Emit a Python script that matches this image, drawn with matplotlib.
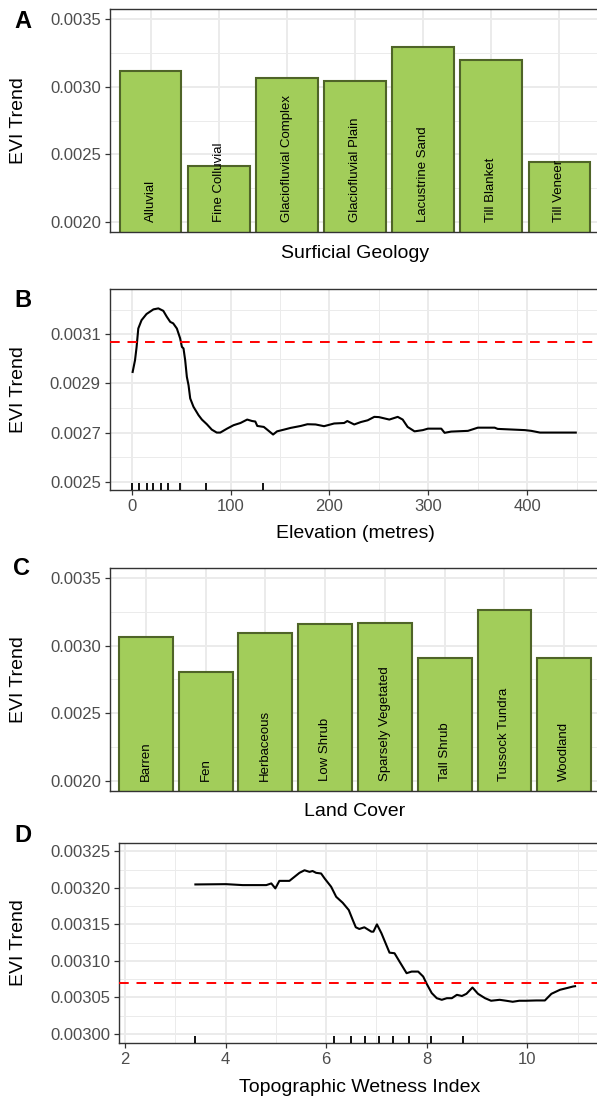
import matplotlib
matplotlib.use('Agg')
import matplotlib.pyplot as plt
from matplotlib.ticker import MultipleLocator, FormatStrFormatter, FixedLocator

plt.rcParams['font.family'] = ['Liberation Sans', 'DejaVu Sans']

# ---------------- data ----------------
geology_cats = ["Alluvial", "Fine Colluvial", "Glaciofluvial Complex", "Glaciofluvial Plain",
                "Lacustrine Sand", "Till Blanket", "Till Veneer"]
geology_vals = [0.003116, 0.002414, 0.003068, 0.003044, 0.003295, 0.003197, 0.002441]

landcover_cats = ["Barren", "Fen", "Herbaceous", "Low Shrub", "Sparsely Vegetated",
                  "Tall Shrub", "Tussock Tundra", "Woodland"]
landcover_vals = [0.003062, 0.002806, 0.003096, 0.003163, 0.003168, 0.002910, 0.003266, 0.002912]

elev_x = [1, 3.4, 5, 6.7, 10, 15, 22, 27, 32, 35.5, 39, 42, 45.7, 49, 50.8, 52.4, 54.1, 55.8,
          57.5, 59.2, 62.5, 67.6, 71, 76, 81, 86, 89.6, 96.4, 103, 110, 116.8, 121.8, 125, 127,
          133.6, 137, 143, 147, 154, 160.7, 171, 177.7, 186, 194.5, 204.7, 214.8, 218, 225,
          231.8, 238.6, 245.3, 250, 260.5, 269, 274, 279, 286, 294.4, 299.5, 313, 316.4, 323,
          340, 350, 367, 370, 397.6, 404, 412.8, 449]
elev_y = [0.002947, 0.002995, 0.003049, 0.003124, 0.003158, 0.003183, 0.003202, 0.003206,
          0.003196, 0.003172, 0.003151, 0.003145, 0.003124, 0.003084, 0.003049, 0.003043,
          0.002995, 0.002927, 0.002893, 0.002839, 0.002805, 0.002771, 0.002753, 0.002734,
          0.002712, 0.002700, 0.002700, 0.002716, 0.002730, 0.002739, 0.002753, 0.002747,
          0.002745, 0.002727, 0.002723, 0.002712, 0.002692, 0.002705, 0.002712, 0.002719,
          0.002727, 0.002734, 0.002733, 0.002726, 0.002737, 0.002739, 0.002747, 0.002733,
          0.002743, 0.002750, 0.002764, 0.002763, 0.002753, 0.002764, 0.002753, 0.002723,
          0.002705, 0.002710, 0.002716, 0.002716, 0.002699, 0.002704, 0.002707, 0.002720,
          0.002720, 0.002715, 0.002710, 0.002707, 0.002700, 0.002700]
elev_rug = [0.6, 7.7, 15.2, 21.9, 29.3, 37, 48.8, 75.1, 133]

twi_x = [3.40, 4.01, 4.34, 4.81, 4.91, 4.99, 5.07, 5.27, 5.37, 5.47, 5.57, 5.67, 5.73, 5.80,
         5.90, 5.97, 6.10, 6.20, 6.33, 6.45, 6.53, 6.59, 6.66, 6.76, 6.90, 6.94, 7.01, 7.10,
         7.26, 7.36, 7.46, 7.60, 7.70, 7.83, 7.93, 8.00, 8.10, 8.20, 8.30, 8.40, 8.50, 8.60,
         8.70, 8.79, 8.91, 9.02, 9.16, 9.28, 9.45, 9.58, 9.71, 9.84, 9.97, 10.18, 10.35, 10.48,
         10.65, 10.78, 10.91, 10.95]
twi_y = [0.0032046, 0.0032050, 0.0032037, 0.0032037, 0.0032060, 0.0031992, 0.0032095,
         0.0032095, 0.0032150, 0.0032205, 0.0032240, 0.0032218, 0.0032230, 0.0032205,
         0.0032196, 0.0032128, 0.0032014, 0.0031877, 0.0031795, 0.0031696, 0.0031559,
         0.0031460, 0.0031437, 0.0031460, 0.0031400, 0.0031400, 0.0031500, 0.0031378,
         0.0031113, 0.0031105, 0.0030990, 0.0030832, 0.0030854, 0.0030854, 0.0030786,
         0.0030686, 0.0030560, 0.0030490, 0.0030468, 0.0030490, 0.0030490, 0.0030536,
         0.0030520, 0.0030550, 0.0030636, 0.0030550, 0.0030490, 0.0030455, 0.0030468,
         0.0030455, 0.0030441, 0.0030455, 0.0030455, 0.0030459, 0.0030459, 0.0030550,
         0.0030605, 0.0030627, 0.0030650, 0.0030654]
twi_rug = [3.40, 6.15, 6.50, 6.78, 7.05, 7.33, 7.65, 8.09, 8.73]

ref_line = 0.00307

# ---------------- style ----------------
W, H = 597, 1098
fig = plt.figure(figsize=(W / 100, H / 100), dpi=100)


def rect(l, t, r, b):
    return [l / W, 1 - b / H, (r - l) / W, (b - t) / H]


GRID = '#EBEBEB'
BORDER = '#333333'
TICKLAB = '#4D4D4D'
BAR_FILL = '#A2CD5A'
BAR_EDGE = '#4F6428'


def style(ax):
    ax.set_facecolor('white')
    for s in ax.spines.values():
        s.set_color(BORDER)
        s.set_linewidth(1.0)
    ax.set_axisbelow(True)
    ax.grid(True, which='major', color=GRID, lw=1.4)
    ax.grid(True, which='minor', color=GRID, lw=0.7)
    ax.tick_params(which='major', color=BORDER, length=3.6, width=0.9,
                   labelsize=12, labelcolor=TICKLAB, pad=3.0)
    ax.tick_params(which='minor', length=0)


def ylab(ax, xfrac):
    ax.set_ylabel('EVI Trend', fontsize=14, color='black', va='center', ha='center')
    ax.yaxis.set_label_coords(xfrac, 0.5)


def xlab(ax, text, yfrac):
    ax.set_xlabel(text, fontsize=14, color='black', va='center')
    ax.xaxis.set_label_coords(0.5, yfrac)


def bar_panel(ax, cats, vals):
    xs = list(range(len(cats)))
    ax.bar(xs, vals, width=0.9, color=BAR_FILL, edgecolor=BAR_EDGE, linewidth=1.5, zorder=2)
    for xi, c in zip(xs, cats):
        ax.text(xi, 0.002, c, rotation=90, ha='center', va='bottom', fontsize=9.5,
                color='black', zorder=3)
    ax.set_xlim(-0.6, len(cats) - 0.4)
    ax.set_ylim(0.001925, 0.003575)
    ax.xaxis.set_major_locator(FixedLocator(xs))
    ax.set_xticklabels([])
    ax.tick_params(axis='x', which='major', length=0)
    ax.yaxis.set_major_locator(MultipleLocator(0.0005))
    ax.yaxis.set_minor_locator(MultipleLocator(0.00025))
    ax.yaxis.set_major_formatter(FormatStrFormatter('%.4f'))
    ax.grid(False, axis='x', which='minor')


# ---------------- Panel A ----------------
axA = fig.add_axes(rect(110, 9, 600, 232))
style(axA)
bar_panel(axA, geology_cats, geology_vals)
ylab(axA, (18.3 - 110) / 490)
xlab(axA, 'Surficial Geology', -21 / 223)

# ---------------- Panel B ----------------
axB = fig.add_axes(rect(110, 289, 600, 490))
style(axB)
axB.plot(elev_x, elev_y, color='black', lw=1.5, zorder=3)
axB.axhline(ref_line, color='red', lw=1.4, ls=(0, (5, 4)), zorder=3)
axB.vlines(elev_rug, 0, 0.035, transform=axB.get_xaxis_transform(), color='black', lw=1.3, zorder=3)
axB.set_xlim(-21.9, 473.5)
axB.set_ylim(0.002466, 0.003285)
axB.xaxis.set_major_locator(MultipleLocator(100))
axB.xaxis.set_minor_locator(MultipleLocator(50))
axB.yaxis.set_major_locator(FixedLocator([0.0025, 0.0027, 0.0029, 0.0031]))
axB.yaxis.set_minor_locator(FixedLocator([0.0026, 0.0028, 0.0030, 0.0032]))
axB.yaxis.set_major_formatter(FormatStrFormatter('%.4f'))
ylab(axB, (18.3 - 110) / 490)
xlab(axB, 'Elevation (metres)', -43 / 201)

# ---------------- Panel C ----------------
axC = fig.add_axes(rect(110, 568, 600, 791))
style(axC)
bar_panel(axC, landcover_cats, landcover_vals)
ylab(axC, (18.3 - 110) / 490)
xlab(axC, 'Land Cover', -20.7 / 223)

# ---------------- Panel D ----------------
axD = fig.add_axes(rect(119.3, 843, 600, 1043))
style(axD)
axD.plot(twi_x, twi_y, color='black', lw=1.5, zorder=3)
axD.axhline(ref_line, color='red', lw=1.4, ls=(0, (5, 4)), zorder=3)
axD.vlines(twi_rug, 0, 0.035, transform=axD.get_xaxis_transform(), color='black', lw=1.3, zorder=3)
axD.set_xlim(1.887, 11.446)
axD.set_ylim(0.0029877, 0.0032613)
axD.xaxis.set_major_locator(MultipleLocator(2))
axD.xaxis.set_minor_locator(MultipleLocator(1))
axD.yaxis.set_major_locator(MultipleLocator(0.00005))
axD.yaxis.set_minor_locator(MultipleLocator(0.000025))
axD.yaxis.set_major_formatter(FormatStrFormatter('%.5f'))
ylab(axD, (18.3 - 119.3) / 480.7)
xlab(axD, 'Topographic Wetness Index', -44 / 200)

# ---------------- panel letters ----------------
for letter, (px, py) in zip('ABCD', [(22.5, 21.7), (23, 300.8), (22, 569), (22.5, 835)]):
    fig.text(px / W, 1 - py / H, letter, fontsize=17, fontweight='bold',
             ha='center', va='center', color='black')

fig.savefig('out.png', dpi=100, facecolor='white')
